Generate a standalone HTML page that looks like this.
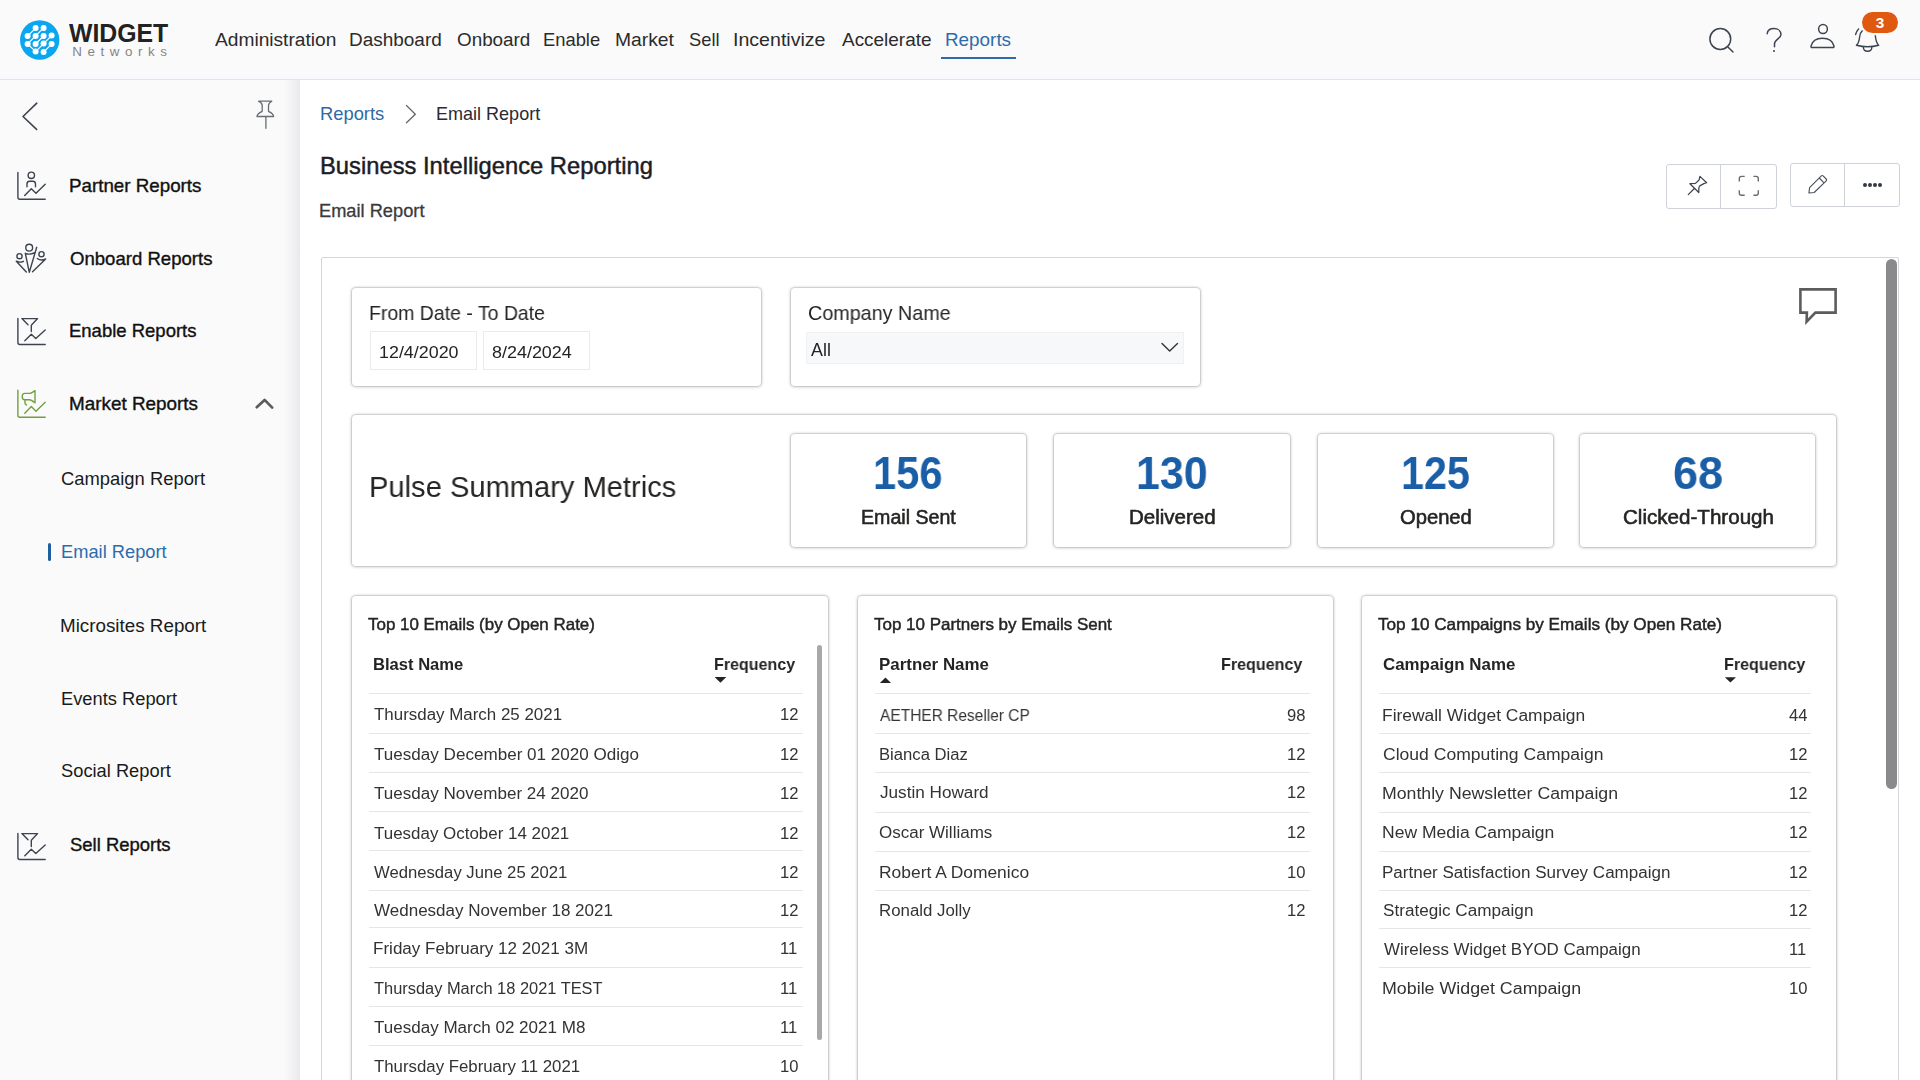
<!DOCTYPE html>
<html><head><meta charset="utf-8">
<style>
*{box-sizing:border-box;margin:0;padding:0}
html,body{width:1920px;height:1080px;overflow:hidden;background:#fff;font-family:"Liberation Sans",sans-serif;color:#222}
.a{position:absolute}
.t{position:absolute;white-space:nowrap;transform-origin:0 0}
.g{will-change:transform}
.hl{position:absolute;height:1px;background:#e6e6e6}
.card{position:absolute;background:#fff;border-radius:4px;box-shadow:0 0 0 1px rgba(0,0,10,0.10),0 0 2px 1.5px rgba(0,0,10,0.07),0 1px 4px 0 rgba(0,0,0,0.08)}
svg{position:absolute;overflow:visible}
</style></head><body>
<!-- header -->
<div class="a" style="left:0;top:0;width:1920px;height:79px;background:#fafafa"></div>
<div class="a" style="left:0;top:76px;width:1920px;height:3px;background:#f7f9fc"></div>
<div class="a" style="left:0;top:79px;width:1920px;height:1px;background:#e2e5e8"></div>
<!-- sidebar -->
<div class="a" style="left:0;top:80px;width:300px;height:1000px;background:#fafafa"></div>
<div class="a" style="left:284px;top:80px;width:16px;height:1000px;background:linear-gradient(to right,rgba(232,232,236,0),rgba(232,232,236,0.6) 70%,#e9e9ec)"></div>

<!-- logo -->
<svg style="left:0;top:0" width="80" height="80" viewBox="0 0 80 80">
  <circle cx="39.7" cy="40" r="19.7" fill="#0ba6f0"/>
  <g fill="none" stroke="#fff" stroke-width="1.2" stroke-linecap="round">
    <path d="M27.6 36.1 L35.6 28.1 M27.6 43.9 L35.6 35.9 L43.6 27.9 M35.6 51.6 L43.6 43.6 L51.6 35.6 M43.6 52.1 L51.6 44.1 M27.6 43.9 L35.6 51.6 M35.6 44 L43.6 36"/>
  </g>
  <g fill="#fff">
    <circle cx="35.6" cy="28.1" r="3"/><circle cx="43.6" cy="27.9" r="3"/>
    <circle cx="27.6" cy="36.1" r="3"/><circle cx="35.6" cy="35.9" r="3"/><circle cx="43.6" cy="36.1" r="3"/><circle cx="51.6" cy="35.6" r="3"/>
    <circle cx="27.6" cy="43.9" r="3"/><circle cx="35.6" cy="44.1" r="3"/><circle cx="43.6" cy="43.4" r="3"/><circle cx="51.6" cy="44.1" r="3"/>
    <circle cx="35.6" cy="51.6" r="3"/><circle cx="43.6" cy="52.1" r="3"/>
  </g>
</svg>

<!-- nav underline -->
<div class="a" style="left:941px;top:57px;width:75px;height:2px;background:#2c6cab"></div>

<!-- right icons -->
<svg style="left:0;top:0" width="1920" height="80" viewBox="0 0 1920 80" fill="none" stroke="#3d4450" stroke-width="1.5" stroke-linecap="round">
  <circle cx="1720.3" cy="39" r="10.4"/><path d="M1728.2 47.2 L1733 52"/>
  <path d="M1767.2 33.8 C1767.5 30.5 1770.3 28.6 1774 28.6 C1778 28.6 1781 31 1781 34.5 C1781 38.5 1774.5 39.5 1774.5 44 L1774.5 46.8"/>
  <circle cx="1823" cy="29" r="4.4"/><path d="M1812.2 47.6 L1832.8 47.6 Q1834.2 47.6 1834 46.2 C1832.8 40.8 1828.5 38.2 1822.5 38.2 C1816.5 38.2 1812.2 40.8 1811 46.2 Q1810.8 47.6 1812.2 47.6 Z" stroke-linejoin="round"/>
  <path d="M1856.4 45.3 C1859 43 1859.4 39.5 1859.7 36.5 C1860.1 32 1863.6 28.5 1867.6 28.5 C1871.6 28.5 1875 32 1875.4 36 C1875.7 39.5 1876.2 43 1878.7 45.3 Q1867.6 48.3 1856.4 45.3 Z" stroke-width="1.4" stroke-linejoin="round"/>
  <path d="M1863.4 47.2 C1863.4 52.5 1871.8 52.5 1871.8 47.2" stroke-width="1.4"/>
  <path d="M1855.6 34.5 C1856.1 32.4 1857 30.5 1858.6 28.9" stroke-width="1.4"/>
</svg>
<div class="a" style="left:1773px;top:50.3px;width:2px;height:2px;background:#3d4450;border-radius:1px"></div>
<div class="a" style="left:1862px;top:12px;width:36px;height:21px;border-radius:11px;background:#df5a10;box-shadow:0 0 0 2.2px #fafafa"></div>
<div class="t" style="left:1875.8px;top:12.9px;font-size:15.3px;line-height:19px;color:#fff;font-weight:bold">3</div>

<!-- sidebar icons -->
<svg style="left:0;top:80px" width="300" height="800" viewBox="0 80 300 800" fill="none" stroke="#3d4450" stroke-width="1.4" stroke-linecap="round" stroke-linejoin="round">
  <path d="M36.8 103.2 L23 116.5 L36.6 129.4" stroke-width="1.6"/>
  <!-- pin -->
  <path d="M258.6 101.2 L271.8 101.2 Q268.5 103 268.5 105.5 L268.5 111.3 Q273.6 113.8 273.6 116.5 L257 116.5 Q257 113.8 262.2 111.3 L262.2 105.5 Q262.2 103 258.6 101.2 Z M265.9 116.8 L265.9 128.3" stroke="#686c74" stroke-width="1.3"/>
  <!-- partner -->
  <path d="M17.9 172.4 L17.9 197.3 Q17.9 199.3 19.9 199.3 L45.2 199.3"/>
  <circle cx="31.3" cy="175.3" r="3.2"/>
  <path d="M27 186.7 L27 184 Q27 181.3 29.7 181.3 L32.8 181.3 Q35.5 181.3 35.5 184 L35.5 186.7 M24.7 195.5 L31.3 188.7 L36 193.3 L45.2 184.2"/>
  <!-- onboard -->
  <circle cx="29.2" cy="247.7" r="3.4"/><circle cx="19.5" cy="256.2" r="2.6"/><circle cx="41.5" cy="254.2" r="2.6"/>
  <path d="M25.3 253.3 L29.3 272.3 L36.7 247.3 M25.3 253.3 Q29.5 255.3 35.3 252.3"/>
  <path d="M16.3 261.2 Q19.5 263 23.5 261.3 M16.3 261.2 L26.3 272"/>
  <path d="M37.3 258.5 Q41 261.3 45.7 259 L32.5 271.8"/>
  <!-- enable -->
  <g id="enic">
  <path d="M17.9 318.4 L17.9 342.5 Q17.9 344.5 19.9 344.5 L45.2 344.5"/>
  <path d="M28 324.7 L21.9 318.6 L37.6 318.6 L31.3 325.2 L31.3 331.5 M24.8 340.7 L31.3 334.3 L35.8 338.5 L45.2 330"/>
  </g>
  <!-- market (green) -->
  <g stroke="#72a03c">
    <path d="M17.9 390.3 L17.9 415.3 Q17.9 417.3 19.9 417.3 L45.2 417.3"/>
    <path d="M29.5 393.4 L24.8 393.4 Q22.2 393.4 22.2 396.5 Q22.2 399.7 24.8 399.7 L29.5 399.7 Q31 399.7 35 402.8 L35 390.6 Q31 393.4 29.5 393.4 Z M25 399.9 L25 403 Q25 404.3 26.5 405"/>
    <path d="M24.8 413.3 L31.3 406.6 L36 411.2 L45.2 402.2"/>
  </g>
  <path d="M256.7 407.2 L264.6 399.9 L272.2 407.6" stroke="#5c5c5c" stroke-width="2.7"/>
  <!-- sell -->
  <use href="#enic" transform="translate(0 515)"/>
</svg>
<div class="a" style="left:48px;top:543.3px;width:3px;height:17.5px;border-radius:1.5px;background:#1f5f9f"></div>

<!-- breadcrumb chevron -->
<svg style="left:0;top:0" width="1920" height="260" viewBox="0 0 1920 260" fill="none" stroke="#666" stroke-width="1.3" stroke-linecap="round" stroke-linejoin="round">
  <path d="M406.5 105.5 L415.3 114.2 L406.5 122.8"/>
</svg>

<!-- top-right buttons -->
<div class="a" style="left:1666px;top:164px;width:111px;height:45px;border:1px solid #cfd2d8;border-radius:3px;background:#fff"></div>
<div class="a" style="left:1720px;top:165px;width:1px;height:43px;background:#cfd2d8"></div>
<div class="a" style="left:1790px;top:163px;width:110px;height:44px;border:1px solid #cfd2d8;border-radius:3px;background:#fff"></div>
<div class="a" style="left:1844px;top:164px;width:1px;height:42px;background:#cfd2d8"></div>
<svg style="left:0;top:0" width="1920" height="260" viewBox="0 0 1920 260" fill="none" stroke="#3d4450" stroke-width="1.2" stroke-linecap="round" stroke-linejoin="round">
  <!-- pin diagonal -->
  <path d="M1699.9 176.4 L1706.7 182.7 L1704.3 183.4 L1699.8 185.9 Q1698.8 187 1698.8 188.5 L1698.8 192.5 L1689.9 183.7 L1695.4 183.4 L1698.8 180.3 Q1699.4 179.2 1699.5 178.2 Z M1694.1 188.8 L1688.3 194.6" stroke-width="1.25"/>
  <!-- expand corners -->
  <path d="M1739.3 181.5 L1739.3 178.6 Q1739.3 176.4 1741.5 176.4 L1744.7 176.4 M1753.4 176.4 L1756.1 176.4 Q1758.3 176.4 1758.3 178.6 L1758.3 181.5 M1758.3 190.2 L1758.3 193.1 Q1758.3 195.3 1756.1 195.3 L1753.4 195.3 M1744.7 195.3 L1741.5 195.3 Q1739.3 195.3 1739.3 193.1 L1739.3 190.2" stroke="#6a6c74" stroke-width="1.4" stroke-linecap="butt"/>
  <!-- pencil -->
  <path d="M1808.9 193 L1809.6 187.6 L1821.3 175.9 Q1822.2 175 1823.1 175.9 L1826.2 179 Q1827.1 179.9 1826.2 180.8 L1814.2 192.5 Z M1819.3 178 L1823.5 182.3" stroke="#4a4f5a" stroke-width="1.1"/>
</svg>
<div class="a" style="left:1862.8px;top:183.1px;width:3.8px;height:3.8px;border-radius:50%;background:#333a46"></div>
<div class="a" style="left:1868.0px;top:183.1px;width:3.8px;height:3.8px;border-radius:50%;background:#333a46"></div>
<div class="a" style="left:1873.2px;top:183.1px;width:3.8px;height:3.8px;border-radius:50%;background:#333a46"></div>
<div class="a" style="left:1878.4px;top:183.1px;width:3.8px;height:3.8px;border-radius:50%;background:#333a46"></div>

<!-- report frame -->
<div class="a" style="left:321px;top:257px;width:1578px;height:840px;border:1px solid #d3d6dc;border-radius:2px;background:#fff"></div>
<div class="a" style="left:1886px;top:258.5px;width:11px;height:530px;border-radius:5.5px;background:#8a8a8a"></div>

<!-- comment icon -->
<svg style="left:0;top:0" width="1920" height="400" viewBox="0 0 1920 400" fill="none" stroke="#5c5c5c" stroke-width="2.6">
  <path d="M1800.4 289.4 L1835.6 289.4 L1835.6 312.6 L1815.4 312.6 L1806.6 321.6 L1806.9 312.6 L1800.4 312.6 Z" stroke-linejoin="miter"/>
</svg>

<!-- filter cards -->
<div class="card" style="left:351.5px;top:288px;width:409px;height:98px"></div>
<div class="a" style="left:370px;top:331px;width:107px;height:39px;border:1px solid #ebebeb;background:#fff"></div>
<div class="a" style="left:483px;top:331px;width:107px;height:39px;border:1px solid #ebebeb;background:#fff"></div>
<div class="card" style="left:791px;top:288px;width:409px;height:98px"></div>
<div class="a" style="left:805.7px;top:331.6px;width:378.5px;height:32.2px;background:#f7f8fa;border:1px solid #f0f1f3"></div>
<svg style="left:0;top:0" width="1920" height="400" viewBox="0 0 1920 400" fill="none" stroke="#333" stroke-width="1.4" stroke-linecap="round" stroke-linejoin="round">
  <path d="M1162 343.4 L1169.7 351 L1177.5 343.4"/>
</svg>

<!-- metrics -->
<div class="card" style="left:352px;top:415px;width:1483.5px;height:150.5px"></div>
<div class="card" style="left:790.5px;top:433.5px;width:235px;height:113px"></div>
<div class="card" style="left:1054px;top:433.5px;width:236px;height:113px"></div>
<div class="card" style="left:1317.7px;top:433.5px;width:235.8px;height:113px"></div>
<div class="card" style="left:1580.4px;top:433.5px;width:235px;height:113px"></div>

<!-- tables -->
<div class="card" style="left:351.8px;top:595.7px;width:476.4px;height:520px"></div>
<div class="card" style="left:857.6px;top:595.7px;width:475.2px;height:520px"></div>
<div class="card" style="left:1361.8px;top:595.7px;width:474.6px;height:520px"></div>
<div class="a" style="left:816.7px;top:645.2px;width:5.5px;height:394.4px;border-radius:3px;background:#a8a8a8"></div>
<svg style="left:0;top:0" width="1920" height="700" viewBox="0 0 1920 700" fill="#252423" stroke="none">
  <path d="M714.6 677 L726.3 677 L720.45 682.8 Z"/>
  <path d="M879.9 682.9 L891 682.9 L885.45 677.4 Z"/>
  <path d="M1724.8 677.2 L1736 677.2 L1730.4 682.6 Z"/>
</svg>

<div class="t" id="t0" style="left:69.38px;top:20.69px;font-size:25.87px;line-height:25.87px;color:#222;font-weight:bold;transform:scaleX(0.9595);">WIDGET</div>
<div class="t" id="t1" style="left:72.30px;top:44.98px;font-size:13.37px;line-height:13.37px;color:#858585;letter-spacing:5.58px;">Networks</div>
<div class="t" id="t2" style="left:214.76px;top:30.67px;font-size:18.46px;line-height:18.46px;color:#2b2b2b;transform:scaleX(1.0387);">Administration</div>
<div class="t" id="t3" style="left:349.04px;top:30.67px;font-size:18.46px;line-height:18.46px;color:#2b2b2b;transform:scaleX(1.0285);">Dashboard</div>
<div class="t" id="t4" style="left:456.71px;top:30.67px;font-size:18.46px;line-height:18.46px;color:#2b2b2b;transform:scaleX(1.0219);">Onboard</div>
<div class="t" id="t5" style="left:543.39px;top:30.67px;font-size:18.46px;line-height:18.46px;color:#2b2b2b;transform:scaleX(0.9956);">Enable</div>
<div class="t" id="t6" style="left:615.02px;top:30.67px;font-size:18.46px;line-height:18.46px;color:#2b2b2b;transform:scaleX(1.0463);">Market</div>
<div class="t" id="t7" style="left:689.07px;top:30.67px;font-size:18.46px;line-height:18.46px;color:#2b2b2b;transform:scaleX(0.9928);">Sell</div>
<div class="t" id="t8" style="left:733.49px;top:30.67px;font-size:18.46px;line-height:18.46px;color:#2b2b2b;transform:scaleX(1.0615);">Incentivize</div>
<div class="t" id="t9" style="left:841.76px;top:30.67px;font-size:18.46px;line-height:18.46px;color:#2b2b2b;transform:scaleX(1.0271);">Accelerate</div>
<div class="t" id="t10" style="left:945.25px;top:30.67px;font-size:18.46px;line-height:18.46px;color:#2c6cab;transform:scaleX(1.0231);">Reports</div>
<div class="t" id="t11" style="left:68.96px;top:178.39px;font-size:17.73px;line-height:17.73px;color:#111;transform:scaleX(1.0587);-webkit-text-stroke:0.35px #111;">Partner Reports</div>
<div class="t" id="t12" style="left:69.82px;top:251.19px;font-size:17.73px;line-height:17.73px;color:#111;transform:scaleX(1.0480);-webkit-text-stroke:0.35px #111;">Onboard Reports</div>
<div class="t" id="t13" style="left:68.98px;top:323.49px;font-size:17.73px;line-height:17.73px;color:#111;transform:scaleX(1.0438);-webkit-text-stroke:0.35px #111;">Enable Reports</div>
<div class="t" id="t14" style="left:68.95px;top:396.39px;font-size:17.73px;line-height:17.73px;color:#111;transform:scaleX(1.0653);-webkit-text-stroke:0.35px #111;">Market Reports</div>
<div class="t" id="t15" style="left:69.86px;top:836.89px;font-size:17.73px;line-height:17.73px;color:#111;transform:scaleX(1.0416);-webkit-text-stroke:0.35px #111;">Sell Reports</div>
<div class="t" id="t16" style="left:60.97px;top:469.94px;font-size:18.02px;line-height:18.02px;color:#1a1a1a;transform:scaleX(1.0206);">Campaign Report</div>
<div class="t" id="t17" style="left:60.70px;top:543.24px;font-size:18.02px;line-height:18.02px;color:#2c6cab;transform:scaleX(1.0150);">Email Report</div>
<div class="t" id="t18" style="left:60.36px;top:616.74px;font-size:18.02px;line-height:18.02px;color:#1a1a1a;transform:scaleX(1.0439);">Microsites Report</div>
<div class="t" id="t19" style="left:60.50px;top:690.04px;font-size:18.02px;line-height:18.02px;color:#1a1a1a;transform:scaleX(1.0160);">Events Report</div>
<div class="t" id="t20" style="left:61.27px;top:762.14px;font-size:18.02px;line-height:18.02px;color:#1a1a1a;transform:scaleX(1.0154);">Social Report</div>
<div class="t" id="t21" style="left:319.99px;top:106.31px;font-size:17.59px;line-height:17.59px;color:#2c6aa8;transform:scaleX(1.0436);">Reports</div>
<div class="t" id="t22" style="left:436.12px;top:106.31px;font-size:17.59px;line-height:17.59px;color:#2a2a36;transform:scaleX(1.0252);">Email Report</div>
<div class="t" id="t23" style="left:319.75px;top:154.69px;font-size:23.40px;line-height:23.40px;color:#1c1c26;transform:scaleX(1.0159);-webkit-text-stroke:0.45px #1c1c26;">Business Intelligence Reporting</div>
<div class="t" id="t24" style="left:319.40px;top:203.29px;font-size:17.73px;line-height:17.73px;color:#3a3a3a;transform:scaleX(1.0297);-webkit-text-stroke:0.3px #3a3a3a;">Email Report</div>
<div class="t g" id="t25" style="left:369.40px;top:303.32px;font-size:20.06px;line-height:20.06px;color:#252423;transform:scaleX(0.9709);">From Date - To Date</div>
<div class="t g" id="t26" style="left:379.24px;top:344.16px;font-size:16.35px;line-height:16.35px;color:#252423;transform:scaleX(1.0937);">12/4/2020</div>
<div class="t g" id="t27" style="left:491.97px;top:344.16px;font-size:16.35px;line-height:16.35px;color:#252423;transform:scaleX(1.0970);">8/24/2024</div>
<div class="t g" id="t28" style="left:808.20px;top:302.58px;font-size:19.99px;line-height:19.99px;color:#252423;transform:scaleX(0.9881);">Company Name</div>
<div class="t g" id="t29" style="left:811.37px;top:342.36px;font-size:17.88px;line-height:17.88px;color:#252423;transform:scaleX(0.9819);">All</div>
<div class="t g" id="t30" style="left:369.31px;top:472.09px;font-size:29.65px;line-height:29.65px;color:#252423;transform:scaleX(0.9821);">Pulse Summary Metrics</div>
<div class="t g" id="t31" style="left:872.83px;top:450.27px;font-size:46.22px;line-height:46.22px;color:#1a5ea7;font-weight:bold;transform:scaleX(0.9002);">156</div>
<div class="t g" id="t32" style="left:860.59px;top:507.81px;font-size:19.48px;line-height:19.48px;color:#252423;transform:scaleX(1.0071);-webkit-text-stroke:0.55px #252423;">Email Sent</div>
<div class="t g" id="t33" style="left:1135.75px;top:450.27px;font-size:46.22px;line-height:46.22px;color:#1a5ea7;font-weight:bold;transform:scaleX(0.9279);">130</div>
<div class="t g" id="t34" style="left:1128.92px;top:507.81px;font-size:19.48px;line-height:19.48px;color:#252423;transform:scaleX(1.0539);-webkit-text-stroke:0.55px #252423;">Delivered</div>
<div class="t g" id="t35" style="left:1400.50px;top:450.27px;font-size:46.22px;line-height:46.22px;color:#1a5ea7;font-weight:bold;transform:scaleX(0.8914);">125</div>
<div class="t g" id="t36" style="left:1400.04px;top:507.81px;font-size:19.48px;line-height:19.48px;color:#252423;transform:scaleX(1.0367);-webkit-text-stroke:0.55px #252423;">Opened</div>
<div class="t g" id="t37" style="left:1672.70px;top:450.27px;font-size:46.22px;line-height:46.22px;color:#1a5ea7;font-weight:bold;transform:scaleX(0.9731);">68</div>
<div class="t g" id="t38" style="left:1622.85px;top:507.81px;font-size:19.48px;line-height:19.48px;color:#252423;transform:scaleX(1.0573);-webkit-text-stroke:0.55px #252423;">Clicked-Through</div>
<div class="t g" id="t39" style="left:368.37px;top:617.10px;font-size:16.72px;line-height:16.72px;color:#252423;transform:scaleX(1.0141);-webkit-text-stroke:0.45px #252423;">Top 10 Emails (by Open Rate)</div>
<div class="t g" id="t40" style="left:874.12px;top:617.15px;font-size:16.72px;line-height:16.72px;color:#252423;transform:scaleX(1.0166);-webkit-text-stroke:0.45px #252423;">Top 10 Partners by Emails Sent</div>
<div class="t g" id="t41" style="left:1377.71px;top:617.15px;font-size:16.72px;line-height:16.72px;color:#252423;transform:scaleX(1.0264);-webkit-text-stroke:0.45px #252423;">Top 10 Campaigns by Emails (by Open Rate)</div>
<div class="t g" id="t42" style="left:373.29px;top:655.62px;font-size:16.28px;line-height:16.28px;color:#252423;font-weight:bold;transform:scaleX(1.0193);">Blast Name</div>
<div class="t g" id="t43" style="left:714.23px;top:655.62px;font-size:16.28px;line-height:16.28px;color:#252423;font-weight:bold;transform:scaleX(0.9858);">Frequency</div>
<div class="t g" id="t44" style="left:879.47px;top:655.62px;font-size:16.28px;line-height:16.28px;color:#252423;font-weight:bold;transform:scaleX(1.0392);">Partner Name</div>
<div class="t g" id="t45" style="left:1220.82px;top:655.62px;font-size:16.28px;line-height:16.28px;color:#252423;font-weight:bold;transform:scaleX(0.9883);">Frequency</div>
<div class="t g" id="t46" style="left:1383.11px;top:655.62px;font-size:16.28px;line-height:16.28px;color:#252423;font-weight:bold;transform:scaleX(1.0385);">Campaign Name</div>
<div class="t g" id="t47" style="left:1723.92px;top:655.62px;font-size:16.28px;line-height:16.28px;color:#252423;font-weight:bold;transform:scaleX(0.9883);">Frequency</div>
<div class="t g" id="t48" style="left:374.02px;top:706.19px;font-size:16.42px;line-height:16.42px;color:#333;transform:scaleX(1.0313);">Thursday March 25 2021</div>
<div class="t g" id="t49" style="left:780.37px;top:707.05px;font-size:16.60px;line-height:16.60px;color:#333;">12</div>
<div class="t g" id="t50" style="left:374.02px;top:746.39px;font-size:16.42px;line-height:16.42px;color:#333;transform:scaleX(1.0405);">Tuesday December 01 2020 Odigo</div>
<div class="t g" id="t51" style="left:780.37px;top:747.25px;font-size:16.60px;line-height:16.60px;color:#333;">12</div>
<div class="t g" id="t52" style="left:374.02px;top:784.59px;font-size:16.42px;line-height:16.42px;color:#333;transform:scaleX(1.0390);">Tuesday November 24 2020</div>
<div class="t g" id="t53" style="left:780.37px;top:786.45px;font-size:16.60px;line-height:16.60px;color:#333;">12</div>
<div class="t g" id="t54" style="left:374.02px;top:825.49px;font-size:16.42px;line-height:16.42px;color:#333;transform:scaleX(1.0326);">Tuesday October 14 2021</div>
<div class="t g" id="t55" style="left:780.37px;top:826.35px;font-size:16.60px;line-height:16.60px;color:#333;">12</div>
<div class="t g" id="t56" style="left:374.33px;top:863.59px;font-size:16.42px;line-height:16.42px;color:#333;transform:scaleX(1.0159);">Wednesday June 25 2021</div>
<div class="t g" id="t57" style="left:780.37px;top:865.45px;font-size:16.60px;line-height:16.60px;color:#333;">12</div>
<div class="t g" id="t58" style="left:374.33px;top:902.09px;font-size:16.42px;line-height:16.42px;color:#333;transform:scaleX(1.0368);">Wednesday November 18 2021</div>
<div class="t g" id="t59" style="left:780.37px;top:902.95px;font-size:16.60px;line-height:16.60px;color:#333;">12</div>
<div class="t g" id="t60" style="left:373.00px;top:940.29px;font-size:16.42px;line-height:16.42px;color:#333;transform:scaleX(1.0394);">Friday February 12 2021 3M</div>
<div class="t g" id="t61" style="left:780.35px;top:941.15px;font-size:16.60px;line-height:16.60px;color:#333;">11</div>
<div class="t g" id="t62" style="left:374.03px;top:980.39px;font-size:16.42px;line-height:16.42px;color:#333;">Thursday March 18 2021 TEST</div>
<div class="t g" id="t63" style="left:780.35px;top:981.25px;font-size:16.60px;line-height:16.60px;color:#333;">11</div>
<div class="t g" id="t64" style="left:374.02px;top:1018.99px;font-size:16.42px;line-height:16.42px;color:#333;transform:scaleX(1.0377);">Tuesday March 02 2021 M8</div>
<div class="t g" id="t65" style="left:780.35px;top:1019.85px;font-size:16.60px;line-height:16.60px;color:#333;">11</div>
<div class="t g" id="t66" style="left:374.02px;top:1057.59px;font-size:16.42px;line-height:16.42px;color:#333;transform:scaleX(1.0242);">Thursday February 11 2021</div>
<div class="t g" id="t67" style="left:780.18px;top:1059.45px;font-size:16.60px;line-height:16.60px;color:#333;">10</div>
<div class="t g" id="t68" style="left:880.17px;top:707.39px;font-size:16.42px;line-height:16.42px;color:#333;transform:scaleX(0.9442);">AETHER Reseller CP</div>
<div class="t g" id="t69" style="left:1286.66px;top:708.25px;font-size:16.60px;line-height:16.60px;color:#333;">98</div>
<div class="t g" id="t70" style="left:878.83px;top:746.19px;font-size:16.42px;line-height:16.42px;color:#333;transform:scaleX(1.0143);">Bianca Diaz</div>
<div class="t g" id="t71" style="left:1286.77px;top:747.05px;font-size:16.60px;line-height:16.60px;color:#333;">12</div>
<div class="t g" id="t72" style="left:879.93px;top:784.09px;font-size:16.42px;line-height:16.42px;color:#333;transform:scaleX(1.0452);">Justin Howard</div>
<div class="t g" id="t73" style="left:1286.77px;top:784.95px;font-size:16.60px;line-height:16.60px;color:#333;">12</div>
<div class="t g" id="t74" style="left:879.39px;top:823.69px;font-size:16.42px;line-height:16.42px;color:#333;transform:scaleX(1.0358);">Oscar Williams</div>
<div class="t g" id="t75" style="left:1286.77px;top:824.55px;font-size:16.60px;line-height:16.60px;color:#333;">12</div>
<div class="t g" id="t76" style="left:878.77px;top:864.19px;font-size:16.42px;line-height:16.42px;color:#333;transform:scaleX(1.0617);">Robert A Domenico</div>
<div class="t g" id="t77" style="left:1286.58px;top:865.05px;font-size:16.60px;line-height:16.60px;color:#333;">10</div>
<div class="t g" id="t78" style="left:878.82px;top:902.19px;font-size:16.42px;line-height:16.42px;color:#333;transform:scaleX(1.0262);">Ronald Jolly</div>
<div class="t g" id="t79" style="left:1286.77px;top:903.05px;font-size:16.60px;line-height:16.60px;color:#333;">12</div>
<div class="t g" id="t80" style="left:1382.37px;top:707.39px;font-size:16.42px;line-height:16.42px;color:#333;transform:scaleX(1.0614);">Firewall Widget Campaign</div>
<div class="t g" id="t81" style="left:1789.02px;top:708.25px;font-size:16.60px;line-height:16.60px;color:#333;">44</div>
<div class="t g" id="t82" style="left:1382.91px;top:745.59px;font-size:16.42px;line-height:16.42px;color:#333;transform:scaleX(1.0698);">Cloud Computing Campaign</div>
<div class="t g" id="t83" style="left:1789.37px;top:747.45px;font-size:16.60px;line-height:16.60px;color:#333;">12</div>
<div class="t g" id="t84" style="left:1382.35px;top:785.34px;font-size:16.42px;line-height:16.42px;color:#333;transform:scaleX(1.0786);">Monthly Newsletter Campaign</div>
<div class="t g" id="t85" style="left:1789.37px;top:786.20px;font-size:16.60px;line-height:16.60px;color:#333;">12</div>
<div class="t g" id="t86" style="left:1382.36px;top:823.84px;font-size:16.42px;line-height:16.42px;color:#333;transform:scaleX(1.0677);">New Media Campaign</div>
<div class="t g" id="t87" style="left:1789.37px;top:824.70px;font-size:16.60px;line-height:16.60px;color:#333;">12</div>
<div class="t g" id="t88" style="left:1382.40px;top:863.59px;font-size:16.42px;line-height:16.42px;color:#333;transform:scaleX(1.0369);">Partner Satisfaction Survey Campaign</div>
<div class="t g" id="t89" style="left:1789.37px;top:865.45px;font-size:16.60px;line-height:16.60px;color:#333;">12</div>
<div class="t g" id="t90" style="left:1383.02px;top:902.09px;font-size:16.42px;line-height:16.42px;color:#333;transform:scaleX(1.0440);">Strategic Campaign</div>
<div class="t g" id="t91" style="left:1789.37px;top:902.95px;font-size:16.60px;line-height:16.60px;color:#333;">12</div>
<div class="t g" id="t92" style="left:1383.73px;top:940.59px;font-size:16.42px;line-height:16.42px;color:#333;transform:scaleX(1.0309);">Wireless Widget BYOD Campaign</div>
<div class="t g" id="t93" style="left:1789.35px;top:942.45px;font-size:16.60px;line-height:16.60px;color:#333;">11</div>
<div class="t g" id="t94" style="left:1382.34px;top:980.34px;font-size:16.42px;line-height:16.42px;color:#333;transform:scaleX(1.0863);">Mobile Widget Campaign</div>
<div class="t g" id="t95" style="left:1789.18px;top:981.20px;font-size:16.60px;line-height:16.60px;color:#333;">10</div>
<div class="hl" style="left:368.6px;top:693px;width:434.4px"></div>
<div class="hl" style="left:368.6px;top:733px;width:434.4px"></div>
<div class="hl" style="left:368.6px;top:772px;width:434.4px"></div>
<div class="hl" style="left:368.6px;top:811px;width:434.4px"></div>
<div class="hl" style="left:368.6px;top:850px;width:434.4px"></div>
<div class="hl" style="left:368.6px;top:890px;width:434.4px"></div>
<div class="hl" style="left:368.6px;top:927px;width:434.4px"></div>
<div class="hl" style="left:368.6px;top:967px;width:434.4px"></div>
<div class="hl" style="left:368.6px;top:1006px;width:434.4px"></div>
<div class="hl" style="left:368.6px;top:1045px;width:434.4px"></div>
<div class="hl" style="left:874.5px;top:693px;width:435.2px"></div>
<div class="hl" style="left:874.5px;top:733px;width:435.2px"></div>
<div class="hl" style="left:874.5px;top:772px;width:435.2px"></div>
<div class="hl" style="left:874.5px;top:812px;width:435.2px"></div>
<div class="hl" style="left:874.5px;top:851px;width:435.2px"></div>
<div class="hl" style="left:874.5px;top:890px;width:435.2px"></div>
<div class="hl" style="left:1378.5px;top:693px;width:432.9px"></div>
<div class="hl" style="left:1378.5px;top:733px;width:432.9px"></div>
<div class="hl" style="left:1378.5px;top:772px;width:432.9px"></div>
<div class="hl" style="left:1378.5px;top:812px;width:432.9px"></div>
<div class="hl" style="left:1378.5px;top:851px;width:432.9px"></div>
<div class="hl" style="left:1378.5px;top:890px;width:432.9px"></div>
<div class="hl" style="left:1378.5px;top:928px;width:432.9px"></div>
<div class="hl" style="left:1378.5px;top:967px;width:432.9px"></div>

</body></html>
